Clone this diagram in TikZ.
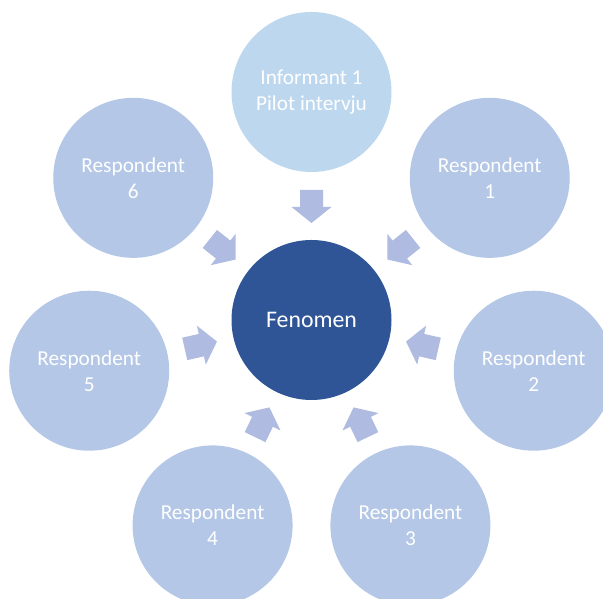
\documentclass[tikz,border=0pt]{standalone}
\usepackage{fontspec}
\setmainfont{Carlito}
\usetikzlibrary{calc}
\definecolor{coreblue}{HTML}{2F5597}
\definecolor{pilotblue}{HTML}{BDD7EE}
\definecolor{respblue}{HTML}{B4C7E7}
\definecolor{arrowblue}{HTML}{AFBBE0}
\tikzset{
  bubble/.style={circle, minimum size=160pt, inner sep=0pt, align=center,
    text=white, font=\fontsize{21.3}{26}\selectfont},
  core/.style={bubble, fill=coreblue, font=\fontsize{23.8}{28}\selectfont},
  pilot/.style={bubble, fill=pilotblue},
  resp/.style={bubble, fill=respblue},
  blockarrow/.style={fill=arrowblue}
}
\begin{document}
\begin{tikzpicture}[x=1pt,y=1pt]
  \useasboundingbox (0,0) rectangle (603,599);
  \node[core] (C) at (311.5,279) {Fenomen};
  % seven sources on a ring of radius 228, the pilot interview on top
  \path (C) ++(90:228) node[pilot] (o0) {Informant 1\\Pilot intervju};
  \foreach \i in {1,...,6} {
    \path (C) ++({90-\i*360/7}:228) node[resp] (o\i) {Respondent\\\i};
  }
  % block arrows pointing from each source into the centre
  \foreach \i in {0,...,6} {
    \begin{scope}[shift={(C.center)}, rotate={90-\i*360/7}]
      \fill[blockarrow] (130,-11.5) -- (113,-11.5) -- (113,-20) -- (97,0)
        -- (113,20) -- (113,11.5) -- (130,11.5) -- cycle;
    \end{scope}
  }
\end{tikzpicture}
\end{document}
